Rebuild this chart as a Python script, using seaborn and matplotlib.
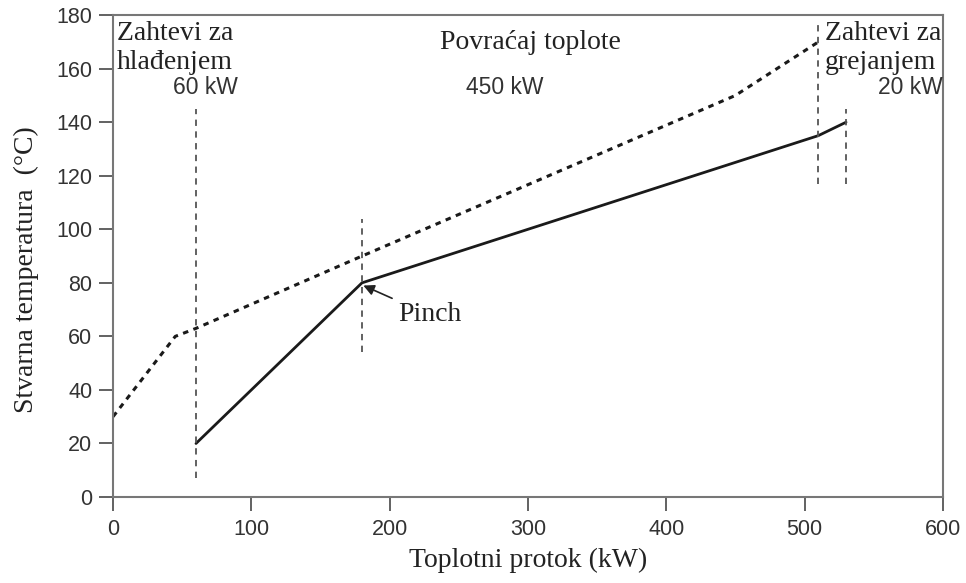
import numpy as np
import pandas as pd
import matplotlib
matplotlib.use("Agg")
import matplotlib.pyplot as plt
import seaborn as sns

# hladni kompozitni profil (puna linija)
cold_q = [60, 120, 180, 510, 530]
cold_t = [20, 50, 80, 135, 140]

# topli kompozitni profil (isprekidana linija)
hot_q = [0, 45, 60, 180, 450, 510]
hot_t = [30, 60, 63, 90, 150, 170]

# vertikalne granice
guide_q = [60, 180, 510, 530]
guide_lo = [7, 54, 117, 117]
guide_hi = [145, 104, 177, 145]

x_ticks = [0, 100, 200, 300, 400, 500, 600]
y_ticks = [0, 20, 40, 60, 80, 100, 120, 140, 160, 180]

sns.set_style("ticks")
plt.rcParams["font.family"] = ["Liberation Sans", "DejaVu Sans"]

fig = plt.figure(figsize=(9.66, 5.83), dpi=100)
ax = fig.add_axes([0.117, 0.1475, 0.859, 0.8265])

df_cold = pd.DataFrame({"q": cold_q, "t": cold_t})
df_hot = pd.DataFrame({"q": hot_q, "t": hot_t})

sns.lineplot(data=df_cold, x="q", y="t", ax=ax, color="#1a1a1a", lw=2,
             sort=False, estimator=None)
sns.lineplot(data=df_hot, x="q", y="t", ax=ax, color="#1a1a1a", lw=2.2,
             sort=False, estimator=None, linestyle=(0, (1.8, 1.8)))

ax.vlines(guide_q, guide_lo, guide_hi, colors="#555555", lw=1.3,
          linestyles=(0, (3.5, 3)))

ax.set_xlim(0, 600)
ax.set_ylim(0, 180)
ax.set_xticks(x_ticks)
ax.set_yticks(y_ticks)
ax.tick_params(axis="both", labelsize=15.5, colors="#555555", length=10,
               width=1.3, labelcolor="#333333")
ax.tick_params(axis="x", pad=6)
ax.tick_params(axis="y", pad=5)
for s in ax.spines.values():
    s.set_color("#777777")
    s.set_linewidth(1.5)

serif = ["Liberation Serif", "DejaVu Serif"]
ax.set_xlabel("Toplotni protok (kW)", family=serif, fontsize=20, color="#222222")
ax.set_ylabel("Stvarna temperatura  (°C)", family=serif, fontsize=20,
              color="#222222")
ax.xaxis.set_label_coords(0.5, -0.106)
ax.yaxis.set_label_coords(-0.089, 0.471)

ax.text(3, 178, "Zahtevi za\nhlađenjem", family=serif, fontsize=20,
        va="top", ha="left", color="#222222", linespacing=1.22)
ax.text(302, 167.5, "Povraćaj toplote", family=serif, fontsize=20,
        va="baseline", ha="center", color="#222222")
ax.text(514.5, 178, "Zahtevi za\ngrejanjem", family=serif, fontsize=20,
        va="top", ha="left", color="#222222", linespacing=1.22)

ax.text(90, 150.4, "60 kW", fontsize=16.5, ha="right", va="baseline", color="#333333")
ax.text(283, 150.4, "450 kW", fontsize=16.5, ha="center", va="baseline", color="#333333")
ax.text(600, 150.4, "20 kW", fontsize=16.5, ha="right", va="baseline", color="#333333")

ax.annotate("Pinch", xy=(181, 79), xytext=(206, 68), family=serif, fontsize=20,
            va="center", ha="left", color="#222222",
            arrowprops=dict(arrowstyle="-|>", color="#222222", lw=1.2,
                            mutation_scale=16, shrinkA=2, shrinkB=0))

fig.savefig("out.png", dpi=100)
